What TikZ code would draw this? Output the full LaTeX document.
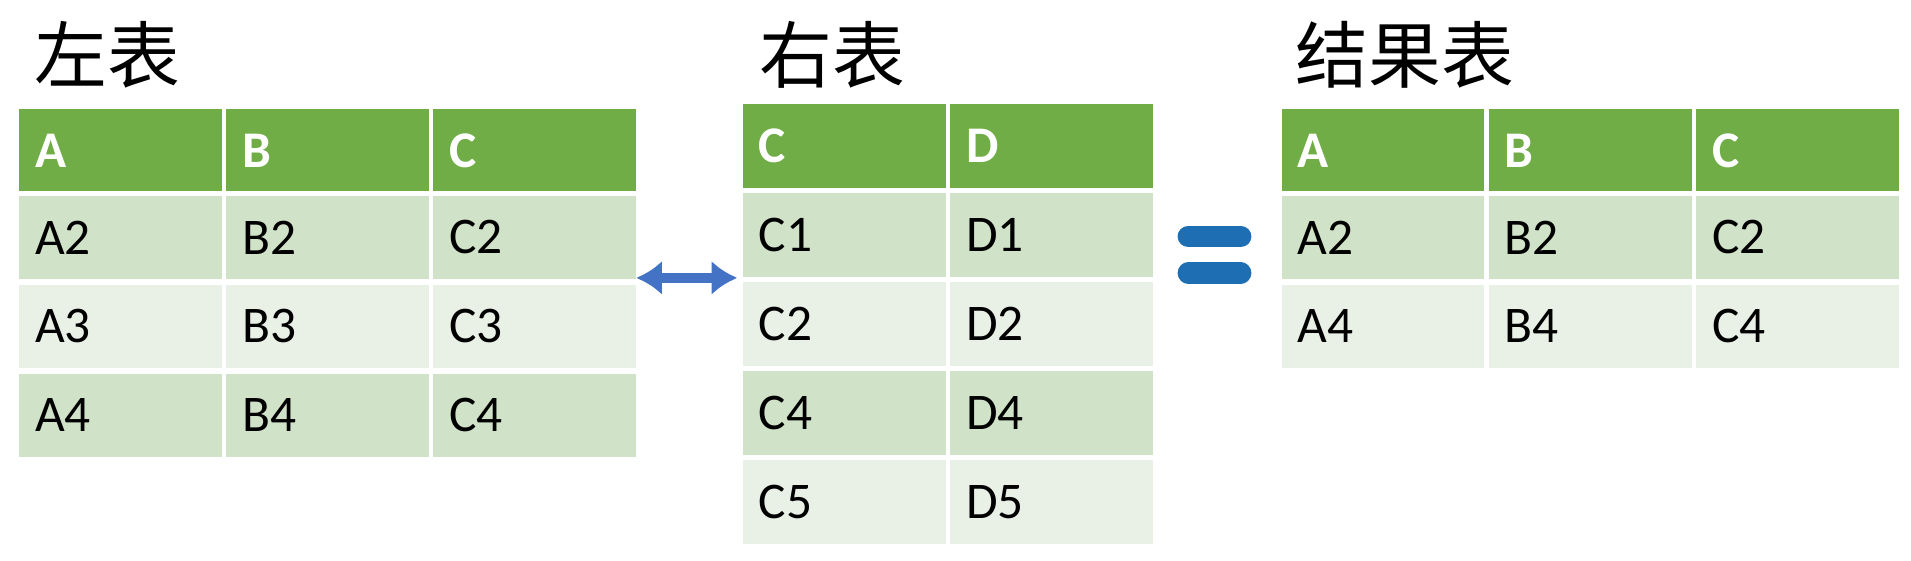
\documentclass[tikz,border=0pt]{standalone}
\usepackage{fontspec}
\setmainfont{Carlito}
\newfontfamily\cjk{Noto Sans CJK SC}
\usetikzlibrary{arrows.meta, positioning}
\definecolor{hdgreen}{RGB}{112,173,71}
\definecolor{rowdark}{RGB}{208,226,200}
\definecolor{rowlight}{RGB}{233,240,230}
\definecolor{arrowblue}{RGB}{68,114,196}
\definecolor{eqblue}{RGB}{30,110,180}
\begin{document}
\begin{tikzpicture}[x=0.02cm, y=-0.02cm,
  cell/.style={draw=white, line width=2pt, minimum width=170*0.02cm, minimum height=72*0.02cm,
    inner sep=0pt, anchor=north west, text width=140*0.02cm, align=left, font=\fontsize{24}{28}\selectfont},
  head/.style={cell, fill=hdgreen, text=white, font=\fontsize{24}{28}\selectfont\bfseries},
  dark/.style={cell, fill=rowdark},
  light/.style={cell, fill=rowlight},
  title/.style={anchor=west, font=\cjk\fontsize{34}{40}\selectfont}]
\useasboundingbox (0,0) rectangle (1568,460);

% --- left table ---
\node[title] (tL) at (22,45) {左表};
\foreach \t [count=\i from 0] in {A,B,C}
  \node[head] (L-0-\i) at (12+170*\i,86) {\t};
\foreach \r/\s [count=\j] in {2/dark,3/light,4/dark}
  \foreach \t [count=\i from 0] in {A,B,C}
    \node[\s] (L-\j-\i) at (12+170*\i,84+73*\j) {\t\r};

% --- right table ---
\node[title] (tR) at (617,45) {右表};
\foreach \t [count=\i from 0] in {C,D}
  \node[head] (R-0-\i) at (606+170*\i,82) {\t};
\foreach \r/\s [count=\j] in {1/dark,2/light,4/dark,5/light}
  \foreach \t [count=\i from 0] in {C,D}
    \node[\s] (R-\j-\i) at (606+170*\i,82+73*\j) {\t\r};

% --- result table ---
\node[title] (tX) at (1057,45) {结果表};
\foreach \t [count=\i from 0] in {A,B,C}
  \node[head] (X-0-\i) at (1048+170*\i,86) {\t};
\foreach \r/\s [count=\j] in {2/dark,4/light}
  \foreach \t [count=\i from 0] in {A,B,C}
    \node[\s] (X-\j-\i) at (1048+170*\i,84+73*\j) {\t\r};

% join arrow and equals
\coordinate (jL) at (522,228);
\coordinate (jR) at (605,228);
\draw[{Latex[length=12pt,width=16pt]}-{Latex[length=12pt,width=16pt]}, line width=5pt, arrowblue] (jL) -- (jR);
\draw[eqblue, line width=10pt, line cap=round] (975,194) -- (1018,194);
\draw[eqblue, line width=10pt, line cap=round] (975,224) -- (1018,224);
\end{tikzpicture}
\end{document}
